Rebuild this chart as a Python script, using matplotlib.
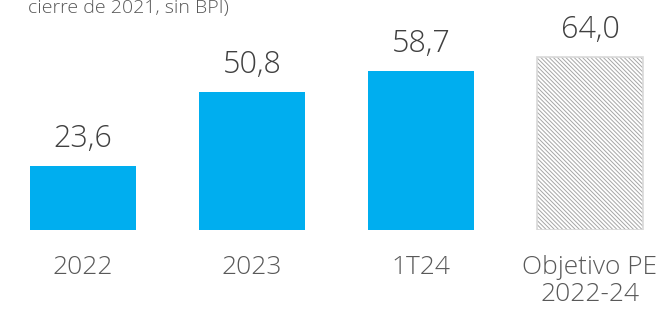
import matplotlib
matplotlib.use("Agg")
import matplotlib.pyplot as plt

categories = ["2022", "2023", "1T24", "Objetivo PE\n2022-24"]
values = [23.6, 50.8, 58.7, 64.0]
value_labels = ["23,6", "50,8", "58,7", "64,0"]
subtitle = "cierre de 2021, sin BPI)"

plt.rcParams['font.family'] = ['Open Sans', 'DejaVu Sans']
plt.rcParams['hatch.linewidth'] = 0.7

W, H = 662, 319
fig = plt.figure(figsize=(W/100, H/100), dpi=100)
base_px = 230
ax = fig.add_axes([0, (H - base_px)/H, 1, base_px/H])
spacing = 169
c0 = 83
ax.set_xlim(-c0/spacing, (W - c0)/spacing)
ax.set_ylim(0, base_px/2.71)

x = list(range(len(categories)))
blue = "#00AEEF"
width = 106/spacing
ax.bar(x[:3], values[:3], width=width, color=blue, linewidth=0)
ax.bar(x[3], values[3], width=width, color="white", edgecolor="#a6a6a6",
       hatch="\\" * 8, linewidth=0)
ax.bar(x[3], values[3], width=width, fill=False, edgecolor="#d9d9d9", linewidth=1.2)

for xi, v, lab in zip(x, values, value_labels):
    ax.annotate(lab, (xi, v), xytext=(0, 13.7), textcoords="offset points",
                ha="center", va="baseline", fontsize=22, color="#404040",
                fontweight="light")

ax.set_xticks(x, categories)
ax.tick_params(axis="x", length=0, pad=18, labelsize=19, labelcolor="#595959")
for t in ax.get_xticklabels():
    t.set_fontweight("light")
    t.set_linespacing(1.1)
ax.set_yticks([])
for s in ax.spines.values():
    s.set_visible(False)

fig.text(28/W, 1 - 13/H, subtitle, ha="left", va="baseline", fontsize=14,
         color="#595959", fontweight="light")

fig.savefig("out.png", dpi=100)
